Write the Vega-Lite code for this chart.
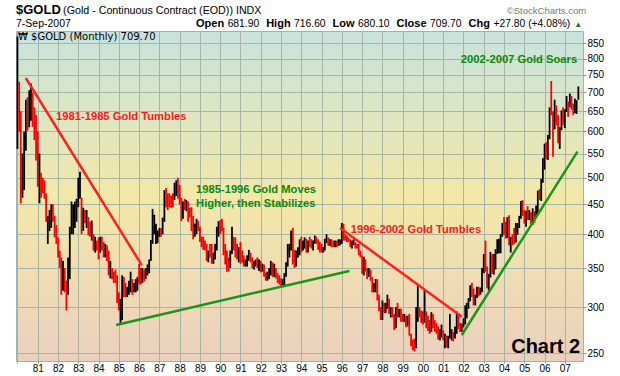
{
"$schema":"https://vega.github.io/schema/vega-lite/v6.json",
"width":567,"height":330,
"autosize":{"type":"none"},
"padding":{"left":16,"top":31,"right":37,"bottom":15},
"background":"white",
"config":{"view":{"stroke":"#9ab4b4","strokeWidth":1,"fill":{"gradient":"linear","x1":0,"y1":0,"x2":0,"y2":1,"stops":[{"offset":0,"color":"#c8e3dd"},{"offset":0.5,"color":"#f2e8a8"},{"offset":1,"color":"#ebd0bf"}]}},"font":"Liberation Sans",
 "axis":{"labelOverlap":false,"labelSeparation":0},
 "axisX":{"labelOverlap":false,"labelSeparation":0},
 "axisTemporal":{"labelOverlap":false}},
"datasets":{
"gold":[
{"d":"1980-01","o":560,"h":873,"l":560,"c":653},{"d":"1980-02","o":653,"h":730,"l":600,"c":637},{"d":"1980-03","o":637,"h":650,"l":452,"c":494},{"d":"1980-04","o":494,"h":550,"l":462,"c":517},{"d":"1980-05","o":517,"h":600,"l":476,"c":560},{"d":"1980-06","o":560,"h":680,"l":556,"c":653},{"d":"1980-07","o":653,"h":687,"l":602,"c":614},{"d":"1980-08","o":614,"h":706,"l":610,"c":630},{"d":"1980-09","o":630,"h":725,"l":626,"c":666},{"d":"1980-10","o":666,"h":700,"l":611,"c":629},{"d":"1980-11","o":629,"h":660,"l":580,"c":619},{"d":"1980-12","o":619,"h":640,"l":535,"c":589},
{"d":"1981-01","o":589,"h":600,"l":482,"c":497},{"d":"1981-02","o":480,"h":550,"l":452,"c":500},{"d":"1981-03","o":500,"h":510,"l":462,"c":496},{"d":"1981-04","o":496,"h":500,"l":470,"c":481},{"d":"1981-05","o":481,"h":495,"l":460,"c":470},{"d":"1981-06","o":470,"h":470,"l":420,"c":424},{"d":"1981-07","o":395,"h":430,"l":385,"c":410},{"d":"1981-08","o":410,"h":440,"l":405,"c":425},{"d":"1981-09","o":425,"h":450,"l":410,"c":435},{"d":"1981-10","o":435,"h":450,"l":420,"c":427},{"d":"1981-11","o":427,"h":430,"l":395,"c":414},{"d":"1981-12","o":414,"h":415,"l":385,"c":400},
{"d":"1982-01","o":390,"h":395,"l":365,"c":368},{"d":"1982-02","o":368,"h":375,"l":350,"c":362},{"d":"1982-03","o":362,"h":365,"l":315,"c":320},{"d":"1982-04","o":320,"h":360,"l":320,"c":350},{"d":"1982-05","o":350,"h":350,"l":318,"c":325},{"d":"1982-06","o":325,"h":333,"l":296,"c":315},{"d":"1982-07","o":315,"h":365,"l":315,"c":355},{"d":"1982-08","o":355,"h":412,"l":335,"c":410},{"d":"1982-09","o":410,"h":455,"l":400,"c":420},{"d":"1982-10","o":420,"h":450,"l":400,"c":430},{"d":"1982-11","o":420,"h":455,"l":410,"c":440},{"d":"1982-12","o":430,"h":460,"l":420,"c":455},
{"d":"1983-01","o":455,"h":500,"l":445,"c":490},{"d":"1983-02","o":490,"h":512,"l":460,"c":505},{"d":"1983-03","o":440,"h":462,"l":400,"c":415},{"d":"1983-04","o":410,"h":444,"l":405,"c":435},{"d":"1983-05","o":435,"h":440,"l":418,"c":425},{"d":"1983-06","o":425,"h":440,"l":410,"c":430},{"d":"1983-07","o":424,"h":428,"l":398,"c":410},{"d":"1983-08","o":418,"h":420,"l":396,"c":405},{"d":"1983-09","o":405,"h":422,"l":390,"c":415},{"d":"1983-10","o":400,"h":400,"l":375,"c":385},{"d":"1983-11","o":380,"h":396,"l":372,"c":390},{"d":"1983-12","o":390,"h":390,"l":375,"c":380},
{"d":"1984-01","o":380,"h":395,"l":362,"c":370},{"d":"1984-02","o":372,"h":396,"l":372,"c":394},{"d":"1984-03","o":394,"h":396,"l":375,"c":388},{"d":"1984-04","o":388,"h":388,"l":365,"c":375},{"d":"1984-05","o":375,"h":385,"l":365,"c":383},{"d":"1984-06","o":383,"h":383,"l":360,"c":375},{"d":"1984-07","o":375,"h":375,"l":340,"c":345},{"d":"1984-08","o":342,"h":360,"l":336,"c":350},{"d":"1984-09","o":350,"h":350,"l":335,"c":340},{"d":"1984-10","o":340,"h":345,"l":330,"c":335},{"d":"1984-11","o":345,"h":348,"l":330,"c":338},{"d":"1984-12","o":338,"h":340,"l":305,"c":309},
{"d":"1985-01","o":309,"h":318,"l":296,"c":300},{"d":"1985-02","o":290,"h":310,"l":282,"c":300},{"d":"1985-03","o":300,"h":340,"l":285,"c":330},{"d":"1985-04","o":330,"h":338,"l":312,"c":320},{"d":"1985-05","o":320,"h":330,"l":312,"c":315},{"d":"1985-06","o":315,"h":325,"l":312,"c":318},{"d":"1985-07","o":318,"h":333,"l":315,"c":328},{"d":"1985-08","o":328,"h":345,"l":318,"c":335},{"d":"1985-09","o":335,"h":335,"l":315,"c":325},{"d":"1985-10","o":325,"h":330,"l":318,"c":328},{"d":"1985-11","o":328,"h":335,"l":318,"c":332},{"d":"1985-12","o":325,"h":338,"l":320,"c":335},
{"d":"1986-01","o":355,"h":356,"l":328,"c":340},{"d":"1986-02","o":340,"h":350,"l":328,"c":338},{"d":"1986-03","o":338,"h":350,"l":330,"c":345},{"d":"1986-04","o":345,"h":348,"l":332,"c":340},{"d":"1986-05","o":340,"h":350,"l":335,"c":345},{"d":"1986-06","o":345,"h":355,"l":340,"c":350},{"d":"1986-07","o":346,"h":362,"l":343,"c":358},{"d":"1986-08","o":360,"h":391,"l":360,"c":385},{"d":"1986-09","o":390,"h":442,"l":385,"c":425},{"d":"1986-10","o":405,"h":432,"l":400,"c":410},{"d":"1986-11","o":390,"h":417,"l":385,"c":395},{"d":"1986-12","o":395,"h":406,"l":386,"c":400},
{"d":"1987-01","o":400,"h":410,"l":396,"c":405},{"d":"1987-02","o":405,"h":410,"l":396,"c":400},{"d":"1987-03","o":400,"h":427,"l":400,"c":420},{"d":"1987-04","o":420,"h":476,"l":420,"c":460},{"d":"1987-05","o":460,"h":480,"l":445,"c":452},{"d":"1987-06","o":452,"h":470,"l":440,"c":448},{"d":"1987-07","o":462,"h":470,"l":445,"c":455},{"d":"1987-08","o":455,"h":466,"l":444,"c":450},{"d":"1987-09","o":466,"h":470,"l":445,"c":458},{"d":"1987-10","o":460,"h":490,"l":458,"c":470},{"d":"1987-11","o":470,"h":495,"l":465,"c":492},{"d":"1987-12","o":490,"h":500,"l":460,"c":486},
{"d":"1988-01","o":486,"h":486,"l":450,"c":458},{"d":"1988-02","o":458,"h":462,"l":421,"c":426},{"d":"1988-03","o":428,"h":455,"l":425,"c":450},{"d":"1988-04","o":450,"h":460,"l":440,"c":448},{"d":"1988-05","o":448,"h":458,"l":438,"c":455},{"d":"1988-06","o":455,"h":455,"l":420,"c":437},{"d":"1988-07","o":437,"h":444,"l":428,"c":436},{"d":"1988-08","o":436,"h":445,"l":405,"c":430},{"d":"1988-09","o":430,"h":430,"l":392,"c":396},{"d":"1988-10","o":396,"h":417,"l":396,"c":412},{"d":"1988-11","o":408,"h":425,"l":400,"c":420},{"d":"1988-12","o":420,"h":422,"l":405,"c":410},
{"d":"1989-01","o":410,"h":412,"l":388,"c":393},{"d":"1989-02","o":393,"h":396,"l":380,"c":388},{"d":"1989-03","o":388,"h":396,"l":376,"c":384},{"d":"1989-04","o":384,"h":390,"l":375,"c":378},{"d":"1989-05","o":380,"h":385,"l":360,"c":363},{"d":"1989-06","o":362,"h":375,"l":358,"c":372},{"d":"1989-07","o":372,"h":385,"l":365,"c":368},{"d":"1989-08","o":368,"h":385,"l":356,"c":360},{"d":"1989-09","o":360,"h":372,"l":356,"c":368},{"d":"1989-10","o":366,"h":385,"l":362,"c":378},{"d":"1989-11","o":378,"h":412,"l":375,"c":408},{"d":"1989-12","o":408,"h":421,"l":396,"c":418},
{"d":"1990-01","o":418,"h":423,"l":400,"c":415},{"d":"1990-02","o":415,"h":425,"l":405,"c":410},{"d":"1990-03","o":410,"h":410,"l":368,"c":375},{"d":"1990-04","o":375,"h":385,"l":355,"c":367},{"d":"1990-05","o":367,"h":375,"l":345,"c":362},{"d":"1990-06","o":362,"h":365,"l":345,"c":352},{"d":"1990-07","o":352,"h":375,"l":350,"c":372},{"d":"1990-08","o":372,"h":412,"l":370,"c":395},{"d":"1990-09","o":395,"h":396,"l":375,"c":385},{"d":"1990-10","o":385,"h":395,"l":365,"c":380},{"d":"1990-11","o":380,"h":385,"l":362,"c":375},{"d":"1990-12","o":375,"h":380,"l":358,"c":378},
{"d":"1991-01","o":378,"h":388,"l":356,"c":368},{"d":"1991-02","o":368,"h":375,"l":358,"c":362},{"d":"1991-03","o":362,"h":368,"l":352,"c":356},{"d":"1991-04","o":356,"h":362,"l":352,"c":358},{"d":"1991-05","o":358,"h":368,"l":352,"c":365},{"d":"1991-06","o":365,"h":376,"l":360,"c":368},{"d":"1991-07","o":368,"h":372,"l":358,"c":362},{"d":"1991-08","o":362,"h":365,"l":350,"c":352},{"d":"1991-09","o":352,"h":360,"l":348,"c":355},{"d":"1991-10","o":355,"h":362,"l":352,"c":358},{"d":"1991-11","o":358,"h":365,"l":350,"c":352},{"d":"1991-12","o":352,"h":362,"l":346,"c":356},
{"d":"1992-01","o":356,"h":360,"l":344,"c":348},{"d":"1992-02","o":348,"h":356,"l":345,"c":352},{"d":"1992-03","o":352,"h":355,"l":338,"c":340},{"d":"1992-04","o":340,"h":344,"l":333,"c":336},{"d":"1992-05","o":336,"h":345,"l":333,"c":340},{"d":"1992-06","o":338,"h":350,"l":335,"c":345},{"d":"1992-07","o":345,"h":360,"l":340,"c":356},{"d":"1992-08","o":356,"h":358,"l":338,"c":342},{"d":"1992-09","o":342,"h":356,"l":338,"c":348},{"d":"1992-10","o":348,"h":350,"l":336,"c":340},{"d":"1992-11","o":340,"h":343,"l":330,"c":335},{"d":"1992-12","o":335,"h":340,"l":328,"c":333},
{"d":"1993-01","o":333,"h":336,"l":326,"c":330},{"d":"1993-02","o":327,"h":335,"l":325,"c":330},{"d":"1993-03","o":328,"h":343,"l":325,"c":338},{"d":"1993-04","o":338,"h":358,"l":338,"c":355},{"d":"1993-05","o":355,"h":385,"l":352,"c":377},{"d":"1993-06","o":377,"h":385,"l":365,"c":382},{"d":"1993-07","o":380,"h":406,"l":375,"c":400},{"d":"1993-08","o":400,"h":410,"l":355,"c":372},{"d":"1993-09","o":372,"h":376,"l":350,"c":358},{"d":"1993-10","o":356,"h":375,"l":352,"c":370},{"d":"1993-11","o":370,"h":380,"l":365,"c":372},{"d":"1993-12","o":372,"h":392,"l":368,"c":390},
{"d":"1994-01","o":390,"h":396,"l":372,"c":380},{"d":"1994-02","o":380,"h":390,"l":375,"c":385},{"d":"1994-03","o":385,"h":395,"l":378,"c":390},{"d":"1994-04","o":390,"h":393,"l":372,"c":376},{"d":"1994-05","o":376,"h":390,"l":372,"c":386},{"d":"1994-06","o":386,"h":396,"l":380,"c":385},{"d":"1994-07","o":385,"h":392,"l":378,"c":384},{"d":"1994-08","o":384,"h":390,"l":375,"c":386},{"d":"1994-09","o":386,"h":398,"l":385,"c":395},{"d":"1994-10","o":395,"h":396,"l":385,"c":390},{"d":"1994-11","o":390,"h":392,"l":376,"c":384},{"d":"1994-12","o":384,"h":388,"l":372,"c":383},
{"d":"1995-01","o":383,"h":385,"l":372,"c":375},{"d":"1995-02","o":375,"h":380,"l":372,"c":376},{"d":"1995-03","o":376,"h":393,"l":375,"c":390},{"d":"1995-04","o":388,"h":400,"l":386,"c":392},{"d":"1995-05","o":392,"h":395,"l":382,"c":386},{"d":"1995-06","o":386,"h":392,"l":382,"c":387},{"d":"1995-07","o":387,"h":392,"l":380,"c":384},{"d":"1995-08","o":384,"h":390,"l":380,"c":382},{"d":"1995-09","o":382,"h":390,"l":380,"c":386},{"d":"1995-10","o":386,"h":390,"l":380,"c":384},{"d":"1995-11","o":384,"h":392,"l":382,"c":388},{"d":"1995-12","o":386,"h":392,"l":383,"c":388},
{"d":"1996-01","o":388,"h":418,"l":385,"c":405},{"d":"1996-02","o":405,"h":417,"l":390,"c":398},{"d":"1996-03","o":398,"h":400,"l":390,"c":396},{"d":"1996-04","o":396,"h":398,"l":388,"c":392},{"d":"1996-05","o":392,"h":395,"l":388,"c":391},{"d":"1996-06","o":391,"h":392,"l":380,"c":382},{"d":"1996-07","o":382,"h":390,"l":378,"c":385},{"d":"1996-08","o":385,"h":392,"l":383,"c":387},{"d":"1996-09","o":387,"h":388,"l":378,"c":380},{"d":"1996-10","o":380,"h":385,"l":378,"c":379},{"d":"1996-11","o":379,"h":385,"l":368,"c":372},{"d":"1996-12","o":372,"h":375,"l":365,"c":368},
{"d":"1997-01","o":368,"h":368,"l":342,"c":345},{"d":"1997-02","o":345,"h":366,"l":340,"c":362},{"d":"1997-03","o":362,"h":362,"l":345,"c":350},{"d":"1997-04","o":350,"h":350,"l":335,"c":342},{"d":"1997-05","o":342,"h":350,"l":338,"c":345},{"d":"1997-06","o":345,"h":348,"l":333,"c":335},{"d":"1997-07","o":335,"h":338,"l":318,"c":325},{"d":"1997-08","o":325,"h":330,"l":318,"c":326},{"d":"1997-09","o":326,"h":335,"l":318,"c":332},{"d":"1997-10","o":332,"h":335,"l":308,"c":312},{"d":"1997-11","o":312,"h":315,"l":295,"c":296},{"d":"1997-12","o":296,"h":300,"l":285,"c":290},
{"d":"1998-01","o":290,"h":308,"l":285,"c":305},{"d":"1998-02","o":305,"h":305,"l":293,"c":298},{"d":"1998-03","o":298,"h":305,"l":293,"c":302},{"d":"1998-04","o":302,"h":315,"l":298,"c":308},{"d":"1998-05","o":308,"h":310,"l":292,"c":295},{"d":"1998-06","o":295,"h":300,"l":288,"c":297},{"d":"1998-07","o":297,"h":300,"l":288,"c":290},{"d":"1998-08","o":290,"h":292,"l":274,"c":276},{"d":"1998-09","o":276,"h":300,"l":276,"c":295},{"d":"1998-10","o":295,"h":305,"l":288,"c":292},{"d":"1998-11","o":292,"h":298,"l":288,"c":295},{"d":"1998-12","o":295,"h":298,"l":283,"c":288},
{"d":"1999-01","o":288,"h":292,"l":283,"c":286},{"d":"1999-02","o":286,"h":292,"l":283,"c":288},{"d":"1999-03","o":288,"h":290,"l":277,"c":280},{"d":"1999-04","o":280,"h":290,"l":278,"c":286},{"d":"1999-05","o":286,"h":292,"l":268,"c":270},{"d":"1999-06","o":270,"h":270,"l":257,"c":262},{"d":"1999-07","o":262,"h":264,"l":253,"c":256},{"d":"1999-08","o":256,"h":265,"l":252,"c":255},{"d":"1999-09","o":255,"h":300,"l":255,"c":298},{"d":"1999-10","o":298,"h":326,"l":283,"c":300},{"d":"1999-11","o":300,"h":300,"l":288,"c":293},{"d":"1999-12","o":293,"h":296,"l":282,"c":289},
{"d":"2000-01","o":289,"h":295,"l":280,"c":284},{"d":"2000-02","o":284,"h":321,"l":282,"c":294},{"d":"2000-03","o":294,"h":295,"l":276,"c":278},{"d":"2000-04","o":278,"h":290,"l":273,"c":276},{"d":"2000-05","o":276,"h":285,"l":270,"c":274},{"d":"2000-06","o":274,"h":294,"l":272,"c":288},{"d":"2000-07","o":288,"h":292,"l":276,"c":280},{"d":"2000-08","o":280,"h":285,"l":272,"c":278},{"d":"2000-09","o":278,"h":282,"l":270,"c":274},{"d":"2000-10","o":274,"h":278,"l":264,"c":265},{"d":"2000-11","o":265,"h":275,"l":263,"c":270},{"d":"2000-12","o":270,"h":280,"l":266,"c":274},
{"d":"2001-01","o":274,"h":274,"l":263,"c":266},{"d":"2001-02","o":266,"h":270,"l":255,"c":267},{"d":"2001-03","o":267,"h":268,"l":256,"c":258},{"d":"2001-04","o":258,"h":268,"l":255,"c":265},{"d":"2001-05","o":265,"h":292,"l":265,"c":267},{"d":"2001-06","o":267,"h":275,"l":263,"c":270},{"d":"2001-07","o":270,"h":272,"l":262,"c":266},{"d":"2001-08","o":266,"h":278,"l":265,"c":273},{"d":"2001-09","o":273,"h":295,"l":270,"c":292},{"d":"2001-10","o":292,"h":293,"l":275,"c":279},{"d":"2001-11","o":279,"h":282,"l":272,"c":275},{"d":"2001-12","o":275,"h":281,"l":272,"c":279},
{"d":"2002-01","o":279,"h":287,"l":277,"c":283},{"d":"2002-02","o":283,"h":302,"l":280,"c":297},{"d":"2002-03","o":297,"h":305,"l":287,"c":302},{"d":"2002-04","o":302,"h":311,"l":298,"c":309},{"d":"2002-05","o":309,"h":327,"l":307,"c":326},{"d":"2002-06","o":326,"h":330,"l":312,"c":317},{"d":"2002-07","o":317,"h":323,"l":302,"c":305},{"d":"2002-08","o":305,"h":315,"l":302,"c":312},{"d":"2002-09","o":312,"h":325,"l":311,"c":323},{"d":"2002-10","o":323,"h":325,"l":313,"c":317},{"d":"2002-11","o":317,"h":324,"l":315,"c":318},{"d":"2002-12","o":318,"h":350,"l":318,"c":348},
{"d":"2003-01","o":348,"h":370,"l":343,"c":368},{"d":"2003-02","o":368,"h":390,"l":345,"c":348},{"d":"2003-03","o":348,"h":352,"l":323,"c":335},{"d":"2003-04","o":335,"h":342,"l":320,"c":337},{"d":"2003-05","o":337,"h":373,"l":337,"c":364},{"d":"2003-06","o":364,"h":370,"l":342,"c":346},{"d":"2003-07","o":346,"h":370,"l":341,"c":355},{"d":"2003-08","o":355,"h":377,"l":348,"c":375},{"d":"2003-09","o":375,"h":392,"l":370,"c":385},{"d":"2003-10","o":385,"h":393,"l":371,"c":386},{"d":"2003-11","o":386,"h":400,"l":371,"c":397},{"d":"2003-12","o":397,"h":418,"l":396,"c":417},
{"d":"2004-01","o":417,"h":428,"l":399,"c":403},{"d":"2004-02","o":403,"h":420,"l":393,"c":397},{"d":"2004-03","o":397,"h":428,"l":394,"c":427},{"d":"2004-04","o":427,"h":431,"l":383,"c":388},{"d":"2004-05","o":388,"h":396,"l":372,"c":395},{"d":"2004-06","o":396,"h":400,"l":383,"c":394},{"d":"2004-07","o":394,"h":410,"l":385,"c":391},{"d":"2004-08","o":391,"h":418,"l":387,"c":409},{"d":"2004-09","o":409,"h":418,"l":399,"c":416},{"d":"2004-10","o":416,"h":430,"l":410,"c":429},{"d":"2004-11","o":429,"h":456,"l":425,"c":453},{"d":"2004-12","o":453,"h":458,"l":430,"c":438},
{"d":"2005-01","o":438,"h":440,"l":417,"c":422},{"d":"2005-02","o":422,"h":439,"l":412,"c":436},{"d":"2005-03","o":436,"h":447,"l":423,"c":428},{"d":"2005-04","o":428,"h":440,"l":423,"c":436},{"d":"2005-05","o":436,"h":436,"l":413,"c":417},{"d":"2005-06","o":417,"h":443,"l":415,"c":437},{"d":"2005-07","o":437,"h":438,"l":418,"c":430},{"d":"2005-08","o":430,"h":448,"l":427,"c":434},{"d":"2005-09","o":434,"h":475,"l":433,"c":473},{"d":"2005-10","o":473,"h":478,"l":458,"c":470},{"d":"2005-11","o":470,"h":498,"l":456,"c":496},{"d":"2005-12","o":496,"h":540,"l":490,"c":519},
{"d":"2006-01","o":519,"h":572,"l":516,"c":569},{"d":"2006-02","o":569,"h":575,"l":538,"c":557},{"d":"2006-03","o":557,"h":592,"l":536,"c":584},{"d":"2006-04","o":584,"h":660,"l":582,"c":654},{"d":"2006-05","o":654,"h":732,"l":640,"c":645},{"d":"2006-06","o":645,"h":650,"l":543,"c":615},{"d":"2006-07","o":615,"h":680,"l":605,"c":634},{"d":"2006-08","o":634,"h":665,"l":615,"c":625},{"d":"2006-09","o":625,"h":640,"l":573,"c":600},{"d":"2006-10","o":600,"h":610,"l":560,"c":604},{"d":"2006-11","o":604,"h":652,"l":603,"c":648},{"d":"2006-12","o":648,"h":660,"l":615,"c":636},
{"d":"2007-01","o":636,"h":655,"l":608,"c":652},{"d":"2007-02","o":652,"h":690,"l":648,"c":687},{"d":"2007-03","o":687,"h":675,"l":636,"c":662},{"d":"2007-04","o":662,"h":697,"l":660,"c":682},{"d":"2007-05","o":682,"h":690,"l":654,"c":660},{"d":"2007-06","o":660,"h":670,"l":640,"c":650},{"d":"2007-07","o":650,"h":683,"l":645,"c":666},{"d":"2007-08","o":666,"h":679,"l":643,"c":673},{"d":"2007-09","o":681.9,"h":716.6,"l":680.1,"c":709.7}
],
"trends":[
{"seg":"a","dir":"down","d":"1980-05-30","p":741},{"seg":"a","dir":"down","d":"1986-02-18","p":354},
{"seg":"b","dir":"up","d":"1984-11-12","p":279.6},{"seg":"b","dir":"up","d":"1996-05-16","p":346},
{"seg":"c","dir":"down","d":"1995-12-01","p":410},{"seg":"c","dir":"down","d":"2001-12-02","p":288.8},
{"seg":"d","dir":"up","d":"2001-12-02","p":268.7},{"seg":"d","dir":"up","d":"2007-08-16","p":554}
]
},
"layer":[
{"data":{"name":"gold"},
 "mark":{"type":"rule","strokeWidth":1.8,"clip":true},
 "encoding":{
  "x":{"field":"d","type":"temporal","scale":{"domain":[{"year":1979,"month":12,"date":6},{"year":2007,"month":11,"date":24}]},
   "axis":{"tickCount":{"interval":"year","step":1},"labelExpr":"year(datum.value) < 1981 ? '' : timeFormat(datum.value, '%y')",
    "format":"%y","title":null,"grid":true,"gridColor":"#a9b5a4","domain":false,"tickSize":2,"tickColor":"#8a9a9a","labelFont":"Liberation Sans","labelFontSize":10,"labelColor":"#000","labelPadding":0,"labelFlush":false,"labelOverlap":false,"labelSeparation":0,"labelBound":false}},
  "y":{"field":"l","type":"quantitative","scale":{"type":"log","domain":[242.5,892],"nice":false,"zero":false},
   "axis":{"orient":"right","values":[250,300,350,400,450,500,550,600,650,700,750,800,850],"format":"d","title":null,"grid":true,"gridColor":"#a9b5a4","domain":false,"tickSize":3,"tickColor":"#8a9a9a","labelFont":"Liberation Sans","labelFontSize":10,"labelColor":"#000","labelPadding":1,"labelOverlap":false}},
  "y2":{"field":"h"},
  "color":{"condition":{"test":"datum.c < datum.o","value":"#ff0000"},"value":"#000000"}
 }},
{"data":{"name":"trends"},
 "mark":{"type":"line","strokeWidth":2.5},
 "encoding":{
  "x":{"field":"d","type":"temporal","axis":{"labelOverlap":false}},
  "y":{"field":"p","type":"quantitative"},
  "detail":{"field":"seg"},
  "color":{"field":"dir","type":"nominal","scale":{"domain":["down","up"],"range":["#ff2020","#1a951a"]},"legend":null}
 }},
{"data":{"values":[{}]},"mark":{"type":"text","text":"1981-1985 Gold Tumbles","align":"left","baseline":"middle","fontWeight":"bold","fontSize":11.2,"color":"#ff1a1a"},
 "encoding":{"x":{"datum":{"year":1981,"month":11,"date":27},"type":"temporal"},"y":{"datum":635,"type":"quantitative"}}},
{"data":{"values":[{}]},"mark":{"type":"text","text":["1985-1996 Gold Moves","Higher, then Stabilizes"],"lineHeight":13.4,"align":"left","baseline":"middle","fontWeight":"bold","fontSize":11.2,"color":"#0a8a0a"},
 "encoding":{"x":{"datum":{"year":1988,"month":10,"date":23},"type":"temporal"},"y":{"datum":476,"type":"quantitative"}}},
{"data":{"values":[{}]},"mark":{"type":"text","text":"1996-2002 Gold Tumbles","align":"left","baseline":"middle","fontWeight":"bold","fontSize":11.2,"color":"#ff1a1a"},
 "encoding":{"x":{"datum":{"year":1996,"month":6,"date":11},"type":"temporal"},"y":{"datum":407,"type":"quantitative"}}},
{"data":{"values":[{}]},"mark":{"type":"text","text":"2002-2007 Gold Soars","align":"left","baseline":"middle","fontWeight":"bold","fontSize":11.2,"color":"#0a8a0a"},
 "encoding":{"x":{"datum":{"year":2001,"month":11,"date":14},"type":"temporal"},"y":{"datum":796,"type":"quantitative"}}},
{"data":{"values":[{}]},"mark":{"type":"text","text":"Chart 2","align":"right","baseline":"middle","fontWeight":"bold","fontSize":20,"color":"#000000"},
 "encoding":{"x":{"datum":{"year":2007,"month":10,"date":3},"type":"temporal"},"y":{"datum":256,"type":"quantitative"}}},
{"data":{"values":[{}]},"mark":{"type":"text","text":"₩ $GOLD (Monthly) 709.70","align":"left","baseline":"middle","font":"DejaVu Sans","fontSize":10,"color":"#000000"},
 "encoding":{"x":{"datum":{"year":1980,"month":1,"date":11},"type":"temporal"},"y":{"datum":870.5,"type":"quantitative"}}},
{"data":{"values":[{}]},"mark":{"type":"text","text":"$GOLD","align":"left","baseline":"alphabetic","fontWeight":"bold","fontSize":13,"color":"#000000"},
 "encoding":{"x":{"datum":{"year":1979,"month":12,"date":6},"type":"temporal"},"y":{"datum":954,"type":"quantitative"}}},
{"data":{"values":[{}]},"mark":{"type":"text","text":"(Gold - Continuous Contract (EOD)) INDX","align":"left","baseline":"alphabetic","fontSize":10.7,"color":"#000000"},
 "encoding":{"x":{"datum":{"year":1982,"month":4,"date":2},"type":"temporal"},"y":{"datum":954,"type":"quantitative"}}},
{"data":{"values":[{}]},"mark":{"type":"text","text":"©StockCharts.com","align":"right","baseline":"alphabetic","fontSize":9.5,"color":"#777777"},
 "encoding":{"x":{"datum":{"year":2008,"month":1,"date":19},"type":"temporal"},"y":{"datum":954,"type":"quantitative"}}},
{"data":{"values":[{}]},"mark":{"type":"text","text":"7-Sep-2007","align":"left","baseline":"alphabetic","fontSize":10.5,"color":"#000000"},
 "encoding":{"x":{"datum":{"year":1979,"month":12,"date":6},"type":"temporal"},"y":{"datum":905,"type":"quantitative"}}},
{"data":{"values":[{}]},"mark":{"type":"text","text":"Open","align":"left","baseline":"alphabetic","fontWeight":"bold","fontSize":11,"color":"#000000"},
 "encoding":{"x":{"datum":{"year":1988,"month":10,"date":23},"type":"temporal"},"y":{"datum":905,"type":"quantitative"}}},
{"data":{"values":[{}]},"mark":{"type":"text","text":"681.90","align":"left","baseline":"alphabetic","fontSize":10.3,"color":"#000000"},
 "encoding":{"x":{"datum":{"year":1990,"month":5,"date":15},"type":"temporal"},"y":{"datum":905,"type":"quantitative"}}},
{"data":{"values":[{}]},"mark":{"type":"text","text":"High","align":"left","baseline":"alphabetic","fontWeight":"bold","fontSize":11,"color":"#000000"},
 "encoding":{"x":{"datum":{"year":1992,"month":4,"date":8},"type":"temporal"},"y":{"datum":905,"type":"quantitative"}}},
{"data":{"values":[{}]},"mark":{"type":"text","text":"716.60","align":"left","baseline":"alphabetic","fontSize":10.3,"color":"#000000"},
 "encoding":{"x":{"datum":{"year":1993,"month":8,"date":24},"type":"temporal"},"y":{"datum":905,"type":"quantitative"}}},
{"data":{"values":[{}]},"mark":{"type":"text","text":"Low","align":"left","baseline":"alphabetic","fontWeight":"bold","fontSize":11,"color":"#000000"},
 "encoding":{"x":{"datum":{"year":1995,"month":7,"date":19},"type":"temporal"},"y":{"datum":905,"type":"quantitative"}}},
{"data":{"values":[{}]},"mark":{"type":"text","text":"680.10","align":"left","baseline":"alphabetic","fontSize":10.3,"color":"#000000"},
 "encoding":{"x":{"datum":{"year":1996,"month":10,"date":20},"type":"temporal"},"y":{"datum":905,"type":"quantitative"}}},
{"data":{"values":[{}]},"mark":{"type":"text","text":"Close","align":"left","baseline":"alphabetic","fontWeight":"bold","fontSize":11,"color":"#000000"},
 "encoding":{"x":{"datum":{"year":1998,"month":9,"date":14},"type":"temporal"},"y":{"datum":905,"type":"quantitative"}}},
{"data":{"values":[{}]},"mark":{"type":"text","text":"709.70","align":"left","baseline":"alphabetic","fontSize":10.3,"color":"#000000"},
 "encoding":{"x":{"datum":{"year":2000,"month":5,"date":9},"type":"temporal"},"y":{"datum":905,"type":"quantitative"}}},
{"data":{"values":[{}]},"mark":{"type":"text","text":"Chg","align":"left","baseline":"alphabetic","fontWeight":"bold","fontSize":11,"color":"#000000"},
 "encoding":{"x":{"datum":{"year":2002,"month":4,"date":3},"type":"temporal"},"y":{"datum":905,"type":"quantitative"}}},
{"data":{"values":[{}]},"mark":{"type":"text","text":"+27.80 (+4.08%)","align":"left","baseline":"alphabetic","fontSize":10.3,"color":"#000000"},
 "encoding":{"x":{"datum":{"year":2003,"month":6,"date":26},"type":"temporal"},"y":{"datum":905,"type":"quantitative"}}},
{"data":{"values":[{}]},"mark":{"type":"text","text":"▲","align":"right","baseline":"alphabetic","fontSize":8,"color":"#1a7a1a"},
 "encoding":{"x":{"datum":{"year":2007,"month":11,"date":8},"type":"temporal"},"y":{"datum":905,"type":"quantitative"}}}
]
}
